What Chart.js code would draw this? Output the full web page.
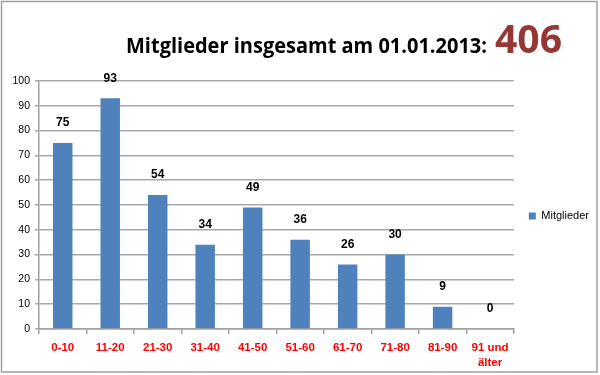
<!DOCTYPE html>
<html>
<head>
<meta charset="utf-8">
<script src="https://cdn.jsdelivr.net/npm/chart.js@4.4.1/dist/chart.umd.min.js"></script>
<style>
  html, body { margin: 0; padding: 0; background: #fff; }
  #wrap { position: relative; width: 600px; height: 375px; }
</style>
</head>
<body>
<div id="wrap"><canvas id="chart" width="600" height="375"></canvas></div>
<script>
// Altersgruppen und Mitgliederzahlen
const ageGroups = ['0-10', '11-20', '21-30', '31-40', '41-50', '51-60', '61-70', '71-80', '81-90', ['91 und', 'älter']];
const members = [75, 93, 54, 34, 49, 36, 26, 30, 9, 0];
const seriesName = 'Mitglieder';
const titleText = 'Mitglieder insgesamt am 01.01.2013:';
const totalText = '406';
const yTicks = { min: 0, max: 100, step: 10 };

// frame round the whole chart
const framePlugin = {
    id: 'frame',
    beforeDraw(chart) {
        const ctx = chart.ctx;
        ctx.save();
        ctx.fillStyle = '#fff';
        ctx.fillRect(0, 0, chart.width, chart.height);
        ctx.strokeStyle = '#a0a0a0';
        ctx.lineWidth = 1.5;
        ctx.strokeRect(1.5, 1.5, 595.5, 370.5);
        ctx.restore();
    }
};

// nudge the legend to where Excel put it
const legendNudge = {
    id: 'legendNudge',
    afterLayout(chart) {
        const lg = chart.legend;
        if (!lg) return;
        lg.left += 5; lg.right += 5;
        lg.top -= 12; lg.bottom -= 12;
    }
};

// title with a bigger red total
const titlePlugin = {
    id: 'mixedTitle',
    afterDraw(chart) {
        const ctx = chart.ctx;
        ctx.save();
        ctx.textBaseline = 'alphabetic';
        ctx.fillStyle = '#000';
        ctx.font = 'bold 21px "Open Sans"';
        const w = ctx.measureText(titleText).width;
        ctx.translate(126, 53);
        ctx.scale(361 / w, 1);
        ctx.fillText(titleText, 0, 0);
        ctx.restore();

        ctx.save();
        ctx.fillStyle = '#953735';
        ctx.font = 'bold 40px "Open Sans"';
        const w2 = ctx.measureText(totalText).width;
        ctx.translate(495, 53);
        ctx.scale(67 / w2, 1);
        ctx.fillText(totalText, 0, 0);
        ctx.restore();
    }
};

// value labels over the bars
const valueLabels = {
    id: 'valueLabels',
    afterDatasetsDraw(chart) {
        const ctx = chart.ctx;
        const meta = chart.getDatasetMeta(0);
        ctx.save();
        ctx.font = 'bold 12px "Liberation Sans"';
        ctx.fillStyle = '#000';
        ctx.textAlign = 'center';
        ctx.textBaseline = 'middle';
        meta.data.forEach((bar, i) => {
            ctx.fillText(String(members[i]), bar.x, bar.y - 20);
        });
        ctx.restore();
    }
};

new Chart(document.getElementById('chart'), {
    type: 'bar',
    data: {
        labels: ageGroups,
        datasets: [{
            label: seriesName,
            data: members,
            backgroundColor: '#4F81BD',
            borderWidth: 0,
            barPercentage: 0.41,
            categoryPercentage: 1
        }]
    },
    options: {
        responsive: false,
        animation: false,
        layout: { padding: { top: 81, left: 4, right: 6, bottom: 0 } },
        plugins: {
            legend: {
                position: 'right',
                labels: {
                    boxWidth: 7,
                    boxHeight: 7,
                    padding: 10,
                    color: '#000',
                    font: { family: 'Liberation Sans', size: 11 }
                }
            },
            tooltip: { enabled: false },
            title: { display: false }
        },
        scales: {
            x: {
                grid: {
                    offset: true,
                    drawOnChartArea: false,
                    drawTicks: true,
                    tickLength: 5,
                    color: '#a0a0a0',
                    lineWidth: 1.5
                },
                border: { color: '#a0a0a0', width: 1.5 },
                ticks: {
                    color: '#ff0000',
                    font: { family: 'Liberation Sans', size: 11.5, weight: 'bold', lineHeight: 1.3 },
                    maxRotation: 0,
                    autoSkip: false,
                    padding: 6
                },
                afterFit(scale) { scale.height = 46; }
            },
            y: {
                min: yTicks.min,
                max: yTicks.max,
                ticks: {
                    stepSize: yTicks.step,
                    color: '#000',
                    font: { family: 'Liberation Sans', size: 10.5 },
                    padding: 5
                },
                grid: {
                    color: '#a8a8a8',
                    lineWidth: 1.5,
                    tickLength: 4
                },
                border: { color: '#a0a0a0', width: 1.5 },
                afterFit(scale) { scale.width = 35; }
            }
        }
    },
    plugins: [framePlugin, legendNudge, titlePlugin, valueLabels]
});
</script>
</body>
</html>
